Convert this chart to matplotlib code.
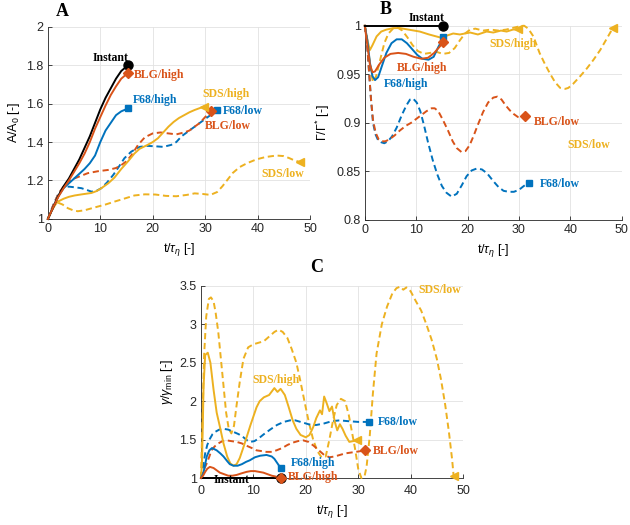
import matplotlib
matplotlib.use('Agg')
import matplotlib.pyplot as plt

# fonts: Arial-like for axes, Times-like bold for the curve labels
plt.rcParams['font.family'] = ['Liberation Sans', 'DejaVu Sans']
plt.rcParams['mathtext.fontset'] = 'custom'
plt.rcParams['mathtext.rm'] = 'Liberation Sans'
plt.rcParams['mathtext.it'] = 'Liberation Sans:italic'

BLUE = '#0072BD'
ORANGE = '#D95319'
YELLOW = '#EDB120'
BLACK = '#000000'
LABEL_FONT = ['Liberation Serif', 'DejaVu Serif']

# ---------------- panel A : A/A0 ----------------
a_inst_t = [0, 1, 2, 3, 4, 5, 6, 7, 8, 9, 10, 11, 12, 13, 14, 15.3]
a_inst = [1, 1.06, 1.12, 1.17, 1.21, 1.26, 1.31, 1.37, 1.43, 1.50, 1.57, 1.63, 1.68, 1.73, 1.77, 1.80]
a_blgh = [1, 1.06, 1.115, 1.16, 1.20, 1.245, 1.29, 1.34, 1.40, 1.47, 1.53, 1.59, 1.645, 1.69, 1.73, 1.76]
a_f68h = [1, 1.06, 1.12, 1.16, 1.185, 1.21, 1.235, 1.26, 1.29, 1.33, 1.40, 1.46, 1.50, 1.54, 1.56, 1.575]

a_f68l_t = [0, 1, 2, 3, 4, 5, 6.4, 7.5, 8.3, 9.2, 10.2, 11.3, 12.5, 13.5, 14.6, 15.9, 17.5, 19, 20.5, 22,
            23.5, 24.5, 25.5, 26.5, 27.5, 28.5, 29.5, 30.5, 31.5, 32.3]
a_f68l = [1, 1.07, 1.13, 1.165, 1.168, 1.165, 1.16, 1.15, 1.142, 1.145, 1.16, 1.19, 1.23, 1.27, 1.316, 1.35,
          1.375, 1.38, 1.378, 1.375, 1.385, 1.40, 1.43, 1.45, 1.47, 1.49, 1.51, 1.53, 1.55, 1.565]

a_blgl_t = [0, 1, 2, 3, 3.8, 5, 7.6, 9.5, 11.5, 13, 14, 15, 15.9, 17.2, 18.5, 20, 21.5, 23, 24.5, 26,
            27, 28, 29, 30, 31.2]
a_blgl = [1, 1.07, 1.13, 1.17, 1.194, 1.21, 1.238, 1.248, 1.255, 1.265, 1.28, 1.30, 1.33, 1.385, 1.425,
          1.445, 1.45, 1.445, 1.44, 1.45, 1.46, 1.48, 1.50, 1.53, 1.56]

a_sdsh_t = [0, 0.5, 1, 1.9, 3, 4, 5.1, 6.5, 8.3, 9.3, 10.2, 11.5, 12.7, 14, 15.3, 16.5, 17.5, 19, 20, 21,
            22, 23, 24, 25, 26, 27, 28, 29, 29.7]
a_sdsh = [1, 1.03, 1.06, 1.09, 1.105, 1.115, 1.122, 1.128, 1.135, 1.145, 1.16, 1.185, 1.215, 1.26, 1.30,
          1.34, 1.365, 1.385, 1.40, 1.42, 1.45, 1.48, 1.505, 1.525, 1.54, 1.555, 1.567, 1.577, 1.585]

a_sdsl_t = [0, 0.7, 1.4, 1.9, 2.8, 3.8, 4.8, 5.7, 7, 8.3, 9.5, 11, 12.7, 14.5, 16.5, 18.5, 20.5, 22.5,
            24.5, 26.5, 28, 29.5, 31, 32.3, 33.3, 34.3, 35.3, 36.6, 38, 39.8, 41.5, 43.6, 45, 46, 47, 48.1]
a_sdsl = [1, 1.04, 1.075, 1.085, 1.075, 1.056, 1.045, 1.04, 1.045, 1.055, 1.064, 1.075, 1.09, 1.105,
          1.122, 1.128, 1.127, 1.12, 1.118, 1.125, 1.133, 1.13, 1.125, 1.14, 1.17, 1.205, 1.24, 1.27,
          1.29, 1.31, 1.322, 1.33, 1.327, 1.317, 1.305, 1.296]

# ---------------- panel B : Gamma/Gamma* ----------------
b_inst_t = [0, 15.3]
b_inst = [1, 1]

b_sdsh_t = [0, 0.5, 1.0, 1.5, 2.3, 3.2, 4.2, 5.5, 6.8, 8.5, 10.7, 12.5, 14.6, 15.5, 17.2, 18.5, 20.5,
            22, 23.7, 25, 26.5, 27.6, 28.8, 29.9]
b_sdsh = [1, 0.985, 0.975, 0.98, 0.989, 0.994, 0.996, 0.9975, 0.9976, 0.996, 0.994, 0.991, 0.988,
          0.989, 0.992, 0.991, 0.993, 0.991, 0.994, 0.993, 0.995, 0.994, 0.996, 0.9966]

b_f68h_t = [0, 0.5, 1.0, 1.5, 2.0, 2.6, 3.3, 4.2, 5.2, 6.2, 7.2, 8.2, 9.2, 10.2, 11.2, 12.4, 13.4, 14.3, 15.3]
b_f68h = [1, 0.985, 0.962, 0.948, 0.944, 0.947, 0.958, 0.972, 0.982, 0.986, 0.986, 0.982, 0.976, 0.97,
          0.966, 0.965, 0.968, 0.978, 0.988]

b_blgh_t = [0, 0.5, 1.0, 1.5, 2.0, 2.8, 3.8, 5.0, 6.5, 8.0, 9.5, 11.0, 12.3, 13.5, 14.5, 15.3]
b_blgh = [1, 0.98, 0.96, 0.952, 0.953, 0.96, 0.967, 0.971, 0.972, 0.971, 0.968, 0.966, 0.967, 0.972,
          0.978, 0.983]

b_sdsl_t = [0, 0.4, 0.8, 1.2, 1.6, 2.2, 3.0, 3.8, 4.6, 5.5, 6.4, 7.3, 8.3, 9.3, 10.3, 11.5, 12.7, 14,
            15.2, 16.4, 17.5, 18.5, 19.5, 20.5, 21.5, 23, 24.5, 26, 27.5, 29, 30.2, 31, 31.8, 32.8, 34,
            35, 36, 37, 38, 39, 39.6, 40.5, 41.9, 43.2, 44.5, 45.8, 47, 48.3]
b_sdsl = [1, 0.99, 0.97, 0.952, 0.942, 0.948, 0.965, 0.982, 0.992, 0.997, 0.998, 0.995, 0.988, 0.98,
          0.974, 0.971, 0.972, 0.973, 0.971, 0.972, 0.977, 0.985, 0.992, 0.996, 0.997, 0.995, 0.996,
          0.995, 0.996, 0.998, 0.9995, 1.0, 0.997, 0.989, 0.972, 0.961, 0.951, 0.942, 0.936, 0.935,
          0.936, 0.94, 0.948, 0.956, 0.965, 0.975, 0.986, 0.998]

b_f68l_t = [0, 0.4, 0.8, 1.2, 1.6, 2.1, 2.6, 3.2, 3.8, 4.5, 5.3, 6.2, 7.2, 8.1, 8.8, 9.4, 10.1, 10.8,
            11.5, 12.3, 13.2, 14.1, 15, 15.9, 16.9, 17.9, 18.9, 19.8, 20.8, 21.8, 22.8, 23.8, 25, 26,
            27, 28, 29, 30, 30.7, 31.2, 32]
b_f68l = [1, 0.985, 0.955, 0.925, 0.9, 0.888, 0.882, 0.88, 0.879, 0.881, 0.886, 0.895, 0.908, 0.918,
          0.924, 0.925, 0.921, 0.912, 0.898, 0.88, 0.862, 0.847, 0.835, 0.828, 0.824, 0.827, 0.836,
          0.845, 0.851, 0.853, 0.852, 0.848, 0.84, 0.834, 0.83, 0.829, 0.829, 0.831, 0.834, 0.836, 0.838]

b_blgl_t = [0, 0.4, 0.8, 1.2, 1.6, 2.1, 2.7, 3.3, 4.0, 4.8, 5.8, 6.8, 8, 9, 10, 11, 12, 13, 13.6, 14.3,
            15.2, 16.2, 17.1, 17.9, 18.8, 19.6, 20.4, 21.2, 22, 23, 24, 25, 25.8, 26.6, 27.4, 28.2, 29,
            29.8, 30.5, 31.2]
b_blgl = [1, 0.985, 0.955, 0.925, 0.903, 0.89, 0.883, 0.881, 0.881, 0.883, 0.887, 0.892, 0.897, 0.9,
          0.904, 0.908, 0.912, 0.915, 0.915, 0.912, 0.903, 0.892, 0.881, 0.874, 0.87, 0.871, 0.877,
          0.887, 0.898, 0.911, 0.921, 0.926, 0.927, 0.924, 0.918, 0.913, 0.909, 0.906, 0.905, 0.907]

# ---------------- panel C : gamma/gamma_min ----------------
c_inst_t = [0, 15.3]
c_inst = [1, 1]

c_blgh_t = [0, 0.4, 0.8, 1.2, 1.7, 2.4, 3.0, 3.6, 4.4, 5.2, 6.0, 6.8, 7.7, 8.7, 9.5, 10.3, 11.1, 11.9,
            12.7, 13.5, 14.2, 14.8, 15.3]
c_blgh = [1, 1.03, 1.08, 1.12, 1.145, 1.13, 1.10, 1.07, 1.05, 1.03, 1.03, 1.04, 1.06, 1.08, 1.09, 1.09,
          1.08, 1.07, 1.05, 1.03, 1.02, 1.01, 1.0]

c_f68h_t = [0, 0.45, 1.1, 1.6, 2.1, 3.0, 3.7, 4.3, 5.0, 5.5, 6.2, 7.0, 7.8, 8.6, 9.3, 10.3, 11.3, 12.5,
            13.5, 14.0, 14.5, 15.0, 15.3]
c_f68h = [1, 1.06, 1.28, 1.36, 1.39, 1.36, 1.32, 1.28, 1.22, 1.18, 1.16, 1.16, 1.18, 1.21, 1.23, 1.27,
          1.29, 1.30, 1.28, 1.25, 1.20, 1.15, 1.13]

c_f68l_t = [0, 0.4, 0.8, 1.2, 1.7, 2.2, 2.7, 3.5, 4.3, 5.2, 6.2, 7.2, 8.1, 8.8, 9.4, 10.2, 10.9, 12,
            13.2, 14.5, 15.8, 17, 18, 19, 20, 21, 22, 23.5, 25, 26.5, 28, 30, 32]
c_f68l = [1, 1.15, 1.32, 1.43, 1.51, 1.57, 1.60, 1.63, 1.64, 1.63, 1.60, 1.57, 1.53, 1.49, 1.47, 1.48,
          1.51, 1.57, 1.63, 1.69, 1.73, 1.75, 1.75, 1.73, 1.71, 1.69, 1.69, 1.71, 1.74, 1.75, 1.74,
          1.73, 1.73]

c_blgl_t = [0, 0.5, 1.1, 1.6, 2.0, 2.6, 3.3, 4.1, 4.9, 5.8, 6.8, 7.8, 8.7, 9.7, 10.6, 11.6, 12.5, 13.5,
            14.4, 15.5, 16.5, 17.5, 18.5, 19.5, 20.5, 21.5, 22.5, 23.5, 24.5, 25.5, 26.5, 27.5, 28.5,
            29.5, 30.5, 31.2]
c_blgl = [1, 1.1, 1.19, 1.28, 1.36, 1.41, 1.45, 1.48, 1.49, 1.48, 1.47, 1.45, 1.42, 1.39, 1.36, 1.35,
          1.34, 1.34, 1.36, 1.39, 1.43, 1.46, 1.48, 1.49, 1.47, 1.42, 1.36, 1.3, 1.27, 1.28, 1.3, 1.32,
          1.33, 1.34, 1.35, 1.36]

c_sdsh_t = [0, 0.2, 0.5, 0.8, 1.3, 1.8, 2.4, 3.0, 3.6, 4.3, 5.0, 5.6, 6.2, 6.8, 7.4, 8.1, 8.8, 9.4,
            10.0, 10.6, 11.2, 12, 13, 14, 14.6, 15.2, 16, 16.7, 17.5, 18.2, 19, 20, 20.7, 21.4, 22,
            22.7, 23.1, 23.5, 24, 24.5, 25, 25.5, 26, 26.5, 27, 27.6, 28.3, 29.7]
c_sdsh = [1, 1.2, 2.2, 2.6, 2.63, 2.5, 2.15, 1.85, 1.67, 1.45, 1.28, 1.19, 1.16, 1.18, 1.26, 1.4, 1.55,
          1.68, 1.8, 1.92, 2.0, 2.05, 2.08, 2.17, 2.12, 2.16, 2.08, 1.93, 1.75, 1.64, 1.56, 1.53, 1.56,
          1.66, 1.78, 1.88, 1.83, 2.06, 1.97, 1.87, 1.93, 1.74, 1.62, 1.70, 1.64, 1.55, 1.47, 1.49]

c_sdsl_t = [0, 0.3, 0.6, 1.0, 1.5, 1.9, 2.4, 2.8, 3.3, 3.8, 4.3, 4.8, 5.3, 5.8, 6.3, 6.8, 7.4, 8.1, 9,
            10, 11, 12, 13, 14, 14.8, 15.6, 16.5, 17.3, 18.2, 19, 19.8, 20.6, 21.4, 22.2, 23, 23.8,
            24.5, 25.2, 25.9, 26.7, 27.5, 28.2, 28.8, 29.4, 30, 30.6, 31.2, 31.6, 32.2, 32.8, 33.5,
            34.5, 35.5, 36.5, 37.3, 38, 38.6, 39.2, 40, 41, 42, 43, 44, 45, 45.8, 46.6, 47.3, 47.9, 48.2]
c_sdsl = [1, 1.8, 2.6, 3.1, 3.33, 3.35, 3.3, 3.15, 2.9, 2.55, 2.2, 1.85, 1.64, 1.58, 1.68, 1.95, 2.25,
          2.55, 2.7, 2.74, 2.76, 2.78, 2.84, 2.9, 2.93, 2.9, 2.82, 2.68, 2.5, 2.25, 1.98, 1.72, 1.5,
          1.35, 1.27, 1.28, 1.5, 1.75, 1.95, 2.03, 2.0, 1.82, 1.6, 1.38, 1.12, 1.0, 1.02, 1.15, 1.55,
          2.1, 2.62, 3.0, 3.23, 3.4, 3.47, 3.49, 3.45, 3.48, 3.43, 3.3, 3.18, 3.0, 2.8, 2.55, 2.28,
          1.95, 1.6, 1.25, 1.03]

x_ticks = [0, 10, 20, 30, 40, 50]
DASH = (0, (3.2, 1.9))


def draw(ax, t, y, color, ls, marker, ms):
    ax.plot(t, y, color=color, ls=ls, lw=1.4, clip_on=False, zorder=3)
    ax.plot(t[-1], y[-1], marker=marker, color=color, ms=ms, ls='none', clip_on=False, zorder=4)


def tag(ax, x, y, s, color, ha='center'):
    ax.text(x, y, s, color=color, fontsize=8.5, fontweight='bold', family=LABEL_FONT,
            ha=ha, va='center', zorder=5)


def style(ax, ylim, yticks, ylabel):
    ax.set_xlim(0, 50)
    ax.set_ylim(*ylim)
    ax.set_xticks(x_ticks)
    ax.set_yticks(yticks)
    ax.grid(True, color='#e2e2e2', lw=0.6)
    ax.set_axisbelow(True)
    for s in ['top', 'right']:
        ax.spines[s].set_visible(False)
    for s in ['left', 'bottom']:
        ax.spines[s].set_color('#262626')
        ax.spines[s].set_linewidth(0.6)
    ax.tick_params(direction='in', length=3, width=0.6, labelsize=9, colors='#262626', pad=3)
    ax.set_xlabel(r't/$\tau_\eta$ [-]', fontsize=9, labelpad=4)
    ax.set_ylabel(ylabel, fontsize=9, labelpad=3)


fig = plt.figure(figsize=(6.3, 5.25), dpi=100)
axA = fig.add_axes([0.076, 0.583, 0.416, 0.366])
axB = fig.add_axes([0.579, 0.581, 0.408, 0.370])
axC = fig.add_axes([0.319, 0.0895, 0.416, 0.366])

# panel A
draw(axA, a_sdsl_t, a_sdsl, YELLOW, DASH, '<', 6)
draw(axA, a_f68l_t, a_f68l, BLUE, DASH, 's', 5)
draw(axA, a_blgl_t, a_blgl, ORANGE, DASH, 'D', 5)
draw(axA, a_sdsh_t, a_sdsh, YELLOW, '-', '<', 6)
draw(axA, a_inst_t, a_f68h, BLUE, '-', 's', 5)
draw(axA, a_inst_t, a_inst, BLACK, '-', 'o', 6.5)
draw(axA, a_inst_t, a_blgh, ORANGE, '-', 'D', 5)
tag(axA, 15.4, 1.835, 'Instant', BLACK, ha='right')
tag(axA, 21.2, 1.75, 'BLG/high', ORANGE)
tag(axA, 20.4, 1.62, 'F68/high', BLUE)
tag(axA, 33.9, 1.65, 'SDS/high', YELLOW)
tag(axA, 37.2, 1.56, 'F68/low', BLUE)
tag(axA, 34.4, 1.484, 'BLG/low', ORANGE)
tag(axA, 44.8, 1.235, 'SDS/low', YELLOW)
style(axA, (1, 2), [1, 1.2, 1.4, 1.6, 1.8, 2], r'A/A$_0$ [-]')
axA.set_yticklabels(['1', '1.2', '1.4', '1.6', '1.8', '2'])

# panel B
draw(axB, b_sdsl_t, b_sdsl, YELLOW, DASH, '<', 6)
draw(axB, b_f68l_t, b_f68l, BLUE, DASH, 's', 5)
draw(axB, b_blgl_t, b_blgl, ORANGE, DASH, 'D', 5)
draw(axB, b_sdsh_t, b_sdsh, YELLOW, '-', '<', 6)
draw(axB, b_f68h_t, b_f68h, BLUE, '-', 's', 5)
draw(axB, b_blgh_t, b_blgh, ORANGE, '-', 'D', 5)
draw(axB, b_inst_t, b_inst, BLACK, '-', 'o', 6.5)
tag(axB, 12.0, 1.008, 'Instant', BLACK)
tag(axB, 28.8, 0.981, 'SDS/high', YELLOW)
tag(axB, 11.2, 0.956, 'BLG/high', ORANGE)
tag(axB, 8.1, 0.940, 'F68/high', BLUE)
tag(axB, 37.3, 0.901, 'BLG/low', ORANGE)
tag(axB, 43.5, 0.877, 'SDS/low', YELLOW)
tag(axB, 37.9, 0.837, 'F68/low', BLUE)
style(axB, (0.8, 1), [0.8, 0.85, 0.9, 0.95, 1], r'$\Gamma/\Gamma^{*}$ [-]')
axB.set_yticklabels(['0.8', '0.85', '0.9', '0.95', '1'])

# panel C
draw(axC, c_sdsl_t, c_sdsl, YELLOW, DASH, '<', 6)
draw(axC, c_f68l_t, c_f68l, BLUE, DASH, 's', 5)
draw(axC, c_blgl_t, c_blgl, ORANGE, DASH, 'D', 5)
draw(axC, c_sdsh_t, c_sdsh, YELLOW, '-', '<', 6)
draw(axC, c_f68h_t, c_f68h, BLUE, '-', 's', 5)
draw(axC, c_inst_t, c_inst, BLACK, '-', 'o', 6.5)
draw(axC, c_blgh_t, c_blgh, ORANGE, '-', 'D', 5)
tag(axC, 45.6, 3.44, 'SDS/low', YELLOW)
tag(axC, 14.3, 2.28, 'SDS/high', YELLOW)
tag(axC, 37.6, 1.73, 'F68/low', BLUE)
tag(axC, 37.1, 1.35, 'BLG/low', ORANGE)
tag(axC, 21.3, 1.19, 'F68/high', BLUE)
tag(axC, 21.3, 1.01, 'BLG/high', ORANGE)
tag(axC, 5.9, 0.975, 'Instant', BLACK)
style(axC, (1, 3.5), [1, 1.5, 2, 2.5, 3, 3.5], r'$\gamma/\gamma_{\rm min}$ [-]')
axC.set_yticklabels(['1', '1.5', '2', '2.5', '3', '3.5'])
axC.tick_params(axis='x', pad=5)

# panel letters
for x, y, s in [(62, 11, 'A'), (386, 10, 'B'), (317, 267, 'C')]:
    fig.text(x / 630, 1 - y / 525, s, fontsize=13, fontweight='bold', family=LABEL_FONT,
             ha='center', va='center')

fig.savefig('out.png', dpi=100)
